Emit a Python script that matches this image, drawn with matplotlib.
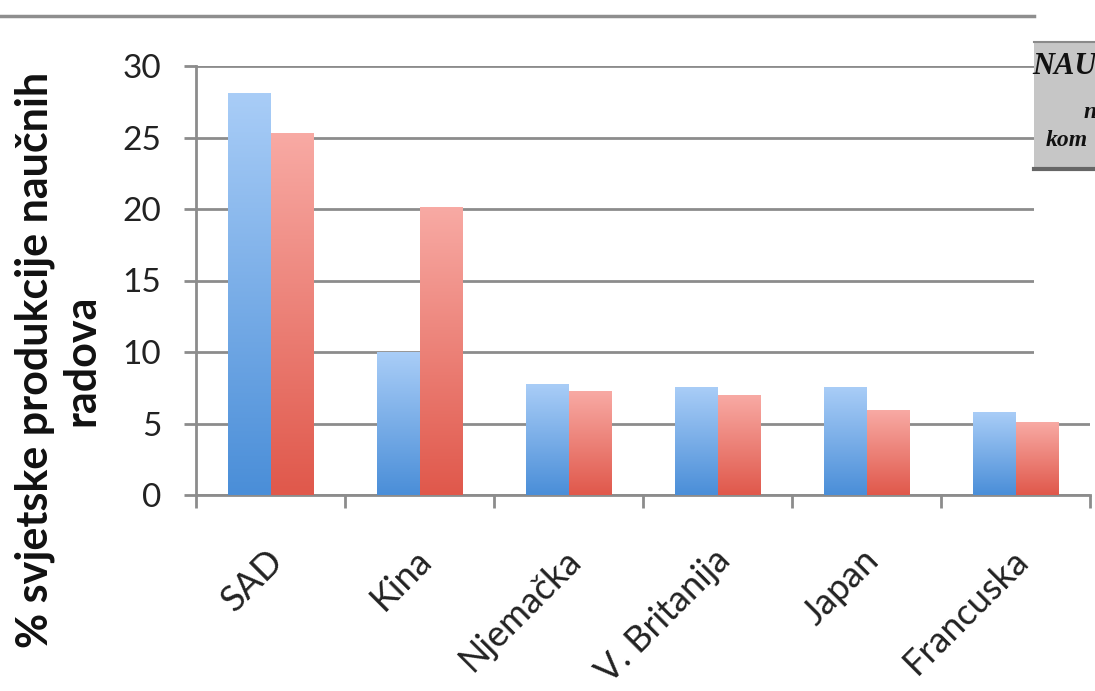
import matplotlib
matplotlib.use("Agg")
import matplotlib.pyplot as plt
import numpy as np
from matplotlib.patches import Rectangle
from matplotlib.lines import Line2D
import matplotlib.transforms as mtransforms
from matplotlib.colors import LinearSegmentedColormap

# podaci
drzave = ["SAD", "Kina", "Njemačka", "V. Britanija", "Japan", "Francuska"]
serija1 = [28.1, 10.0, 7.75, 7.5, 7.5, 5.8]
serija2 = [25.3, 20.1, 7.25, 6.95, 5.9, 5.1]

plt.rcParams['font.family'] = ['Lato', 'DejaVu Sans']

fig = plt.figure(figsize=(10.95, 6.91), dpi=100)
W, H = 1095.0, 691.0
ax = fig.add_axes([196 / W, 1 - 495 / H, 894 / W, 429 / H])

plave = LinearSegmentedColormap.from_list("plave", ["#4a8ed8", "#a9cdf7"])
crvene = LinearSegmentedColormap.from_list("crvene", ["#e0584b", "#f8aaa4"])

sirina = 1 / 3.5
x = np.arange(len(drzave))
b1 = ax.bar(x - sirina / 2, serija1, sirina, color="none", zorder=3)
b2 = ax.bar(x + sirina / 2, serija2, sirina, color="none", zorder=3)

# gradijent u stupcima
grad = np.linspace(0, 1, 256).reshape(-1, 1)
for bars, cmap in [(b1, plave), (b2, crvene)]:
    for b in bars:
        x0, y0 = b.get_x(), b.get_y()
        ax.imshow(grad, cmap=cmap, origin="lower", aspect="auto",
                  extent=[x0, x0 + b.get_width(), y0, y0 + b.get_height()],
                  zorder=3, interpolation="bilinear")

ax.set_xlim(-0.5, len(drzave) - 0.5)
ax.set_ylim(0, 30)
ax.set_yticks(range(0, 31, 5))
ax.yaxis.grid(True, color="#8c8c8c", linewidth=2.0)
ax.set_axisbelow(True)

for s in ["top", "right"]:
    ax.spines[s].set_visible(False)
for s in ["left", "bottom"]:
    ax.spines[s].set_color("#8c8c8c")
    ax.spines[s].set_linewidth(2.0)

ax.set_xticks(np.arange(-0.5, len(drzave), 1.0))
ax.set_xticklabels([])
ax.set_xticks(x, minor=True)
ax.set_xticklabels(drzave, minor=True, rotation=45, ha="right", va="center",
                   rotation_mode="anchor", fontsize=26, color="#222222")
ax.tick_params(axis="x", which="major", length=9.5, width=2, color="#8c8c8c")
ax.tick_params(axis="x", which="minor", length=0, pad=43)
ax.tick_params(axis="y", length=9, width=2, color="#8c8c8c", labelsize=24,
               pad=16, labelcolor="#222222")
pomak = mtransforms.ScaledTranslation(7 / 100, 0, fig.dpi_scale_trans)
for lab in ax.get_xticklabels(minor=True):
    lab.set_transform(lab.get_transform() + pomak)

fig.text(58 / W, 1 - 360 / H, "% svjetske produkcije naučnih\nradova",
         rotation=90, ha="center", va="center", multialignment="center",
         fontsize=31, fontweight="bold", linespacing=1.2, color="#111111")

# gornja linija
fig.add_artist(Line2D([0, 1034 / W], [1 - 16 / H] * 2, color="#8e8e8e", lw=2.5))

# bijela maska desno
fig.add_artist(Rectangle((1034 / W, 1 - 405 / H), 61 / W, 235 / H,
                         facecolor="white", edgecolor="none", zorder=10))

# sivi okvir desno
fig.add_artist(Rectangle((1034 / W, 1 - 170 / H), 61 / W, 128 / H,
                         facecolor="#c6c6c6", edgecolor="none", zorder=11))
fig.add_artist(Line2D([1034 / W, 1], [1 - 42 / H] * 2, color="#8a8a8a", lw=1.5, zorder=12))
fig.add_artist(Line2D([1034 / W, 1], [1 - 169 / H] * 2, color="#666666", lw=3, zorder=12))
tekst = dict(family=["Liberation Serif", "DejaVu Serif"], style="italic",
             fontweight="bold", color="#111111", zorder=13)
fig.text(1032 / W, 1 - 66 / H, "NAU", fontsize=22, va="center", ha="left", **tekst)
fig.text(1084 / W, 1 - 113 / H, "n", fontsize=17, va="center", ha="left", **tekst)
fig.text(1046 / W, 1 - 141 / H, "kom", fontsize=17, va="center", ha="left", **tekst)

fig.savefig("out.png", dpi=100)
